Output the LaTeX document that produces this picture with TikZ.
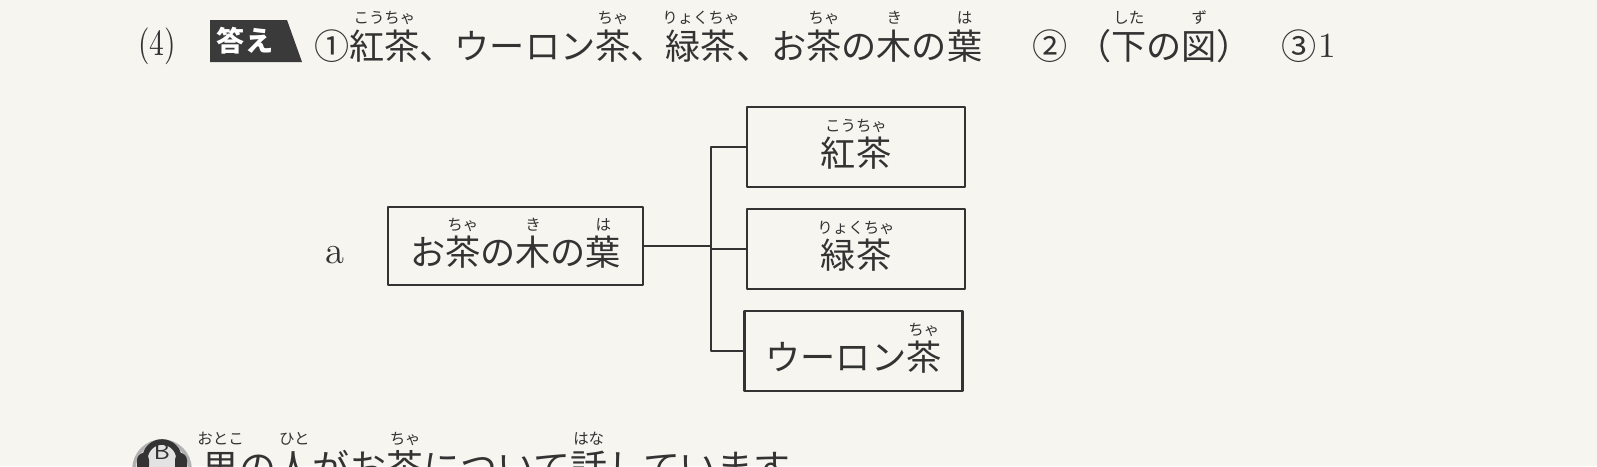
\documentclass[tikz,border=0pt]{standalone}
\usepackage{fontspec}
\usepackage{graphicx}
\newfontfamily\jp{Noto Sans CJK JP}
\definecolor{paper}{HTML}{F6F5EF}
\definecolor{ink}{HTML}{333333}
\definecolor{tabfill}{HTML}{3A3A3A}
\newcommand{\rubyfont}{\fontsize{4.4pt}{5pt}\selectfont}
\newsavebox\furibox
\newcommand{\furi}[2]{\sbox\furibox{#1}\makebox[0pt][l]{\makebox[\wd\furibox][c]{\raisebox{1em}[0pt][0pt]{\rubyfont #2}}}\usebox\furibox}
\begin{document}
\begin{tikzpicture}[x=0.01cm, y=-0.01cm, line join=round, line width=0.65pt,
	every node/.style={text=ink},
	jtext/.style={inner sep=0pt, font=\jp\fontsize{10}{12}\selectfont},
	teabox/.style={draw=ink, line width=0.75pt, minimum width=2.18cm, minimum height=0.8cm, inner sep=0pt,
		font=\jp\fontsize{10}{12}\selectfont, text height=1.3em, text depth=0.2em}]
	\useasboundingbox (0,0) rectangle (1597,466);
	\clip (0,0) rectangle (1597,466);
	\fill[paper] (0,0) rectangle (1597,466);
	% answer line
	\node[inner sep=0pt, font=\fontsize{10.5}{12}\selectfont] (num) at (157,46) {\scalebox{0.8}[1]{(4)}};
	\fill[tabfill] (210,20) -- (287,20) -- (302,62) -- (210,62) -- cycle;
	\node[inner sep=0pt, text=white, font=\jp\bfseries\fontsize{8}{10}\selectfont] (kotae) at (245,41) {答え};
	\node[jtext, anchor=base west] (ans1) at (313,59) {①\furi{紅茶}{こうちゃ}、ウーロン\furi{茶}{ちゃ}、\furi{緑茶}{りょくちゃ}、お\furi{茶}{ちゃ}の\furi{木}{き}の\furi{葉}{は}};
	\node[jtext, anchor=base west] (ans2) at (1031,59) {②};
	\node[jtext, anchor=base west] (zu) at (1075,59) {（\furi{下}{した}の\furi{図}{ず}）};
	\node[jtext, anchor=base west] (ans3) at (1280,59) {③};
	\node[inner sep=0pt, anchor=base, font=\fontsize{10}{12}\selectfont] (one) at (1327,57) {1};
	% tree
	\node[inner sep=0pt, font=\fontsize{11}{13}\selectfont] (a) at (335,255) {a};
	\node[teabox, minimum width=2.55cm, minimum height=0.78cm] (leaf) at (515.5,246) {お\furi{茶}{ちゃ}の\furi{木}{き}の\furi{葉}{は}};
	\node[teabox] (kocha) at (856,147) {\furi{紅茶}{こうちゃ}};
	\node[teabox] (ryokucha) at (856,249) {\furi{緑茶}{りょくちゃ}};
	\node[teabox] (oolong) at (853.5,351) {ウーロン\furi{茶}{ちゃ}};
	\coordinate (fork) at (711,246);
	\draw[ink] (leaf) -- (fork);
	\foreach \t in {kocha, ryokucha, oolong}
	\draw[ink] (fork) |- (\t);
	% next question, cut off at the bottom
	\coordinate (icon) at (162,469);
	\filldraw[fill=gray!22, draw=gray!60, line width=1pt] (icon) circle (28);
	\draw[ink, line width=1.6pt] ([shift={(180:17)}]162,459) arc (180:360:17);
	\fill[ink, rounded corners=2pt] ([shift={(-25,-16)}]icon) rectangle ([shift={(-13,4)}]icon);
	\fill[ink, rounded corners=2pt] ([shift={(13,-16)}]icon) rectangle ([shift={(25,4)}]icon);
	\node[inner sep=0pt, font=\sffamily\fontsize{6.5}{8}\selectfont] (bmark) at (162,452) {B};
	\node[jtext, anchor=base west, font=\jp\fontsize{10.5}{12}\selectfont] (talk) at (201,481) {\furi{男}{おとこ}の\furi{人}{ひと}がお\furi{茶}{ちゃ}について\furi{話}{はな}しています};
\end{tikzpicture}
\end{document}
